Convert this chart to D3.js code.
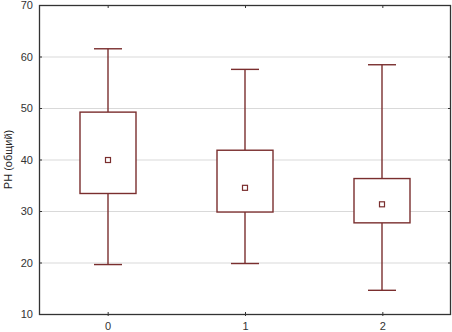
<!DOCTYPE html>
<html><head><meta charset="utf-8">
<script src="https://cdn.jsdelivr.net/npm/d3@7"></script>
<style>body{margin:0;background:#fff}svg{display:block}</style>
</head><body><svg id="c" width="452" height="332"></svg>
<script>
const categories = ["0","1","2"];
const whiskerLow = [19.6, 19.8, 14.6];
const boxLow = [33.4, 29.8, 27.7];
const means = [39.9, 34.5, 31.3];
const boxHigh = [49.2, 41.8, 36.3];
const whiskerHigh = [61.5, 57.5, 58.4];
const yTicks = [10,20,30,40,50,60,70];
const yLabel = "PH (общий)";

const svg = d3.select("#c");
const L=39, R=451, T=5, B=314;
const x = d3.scaleLinear().domain([-0.5,2.5]).range([L,R]);
const y = d3.scaleLinear().domain([10,70]).range([B,T]);
const col = "#7a2e2e";

// gridlines
svg.append("g").selectAll("line").data(yTicks.slice(1,-1)).join("line")
  .attr("x1",L).attr("x2",R).attr("y1",d=>y(d)+0.5).attr("y2",d=>y(d)+0.5)
  .attr("stroke","#d9d9d9").attr("stroke-width",1);

// axes
const ya = svg.append("g").attr("transform",`translate(${L},0)`)
  .call(d3.axisLeft(y).tickValues(yTicks).tickSize(-3).tickPadding(6).tickFormat(d3.format("d")));
const yr = svg.append("g").attr("transform",`translate(${R},0)`)
  .call(d3.axisRight(y).tickValues(yTicks).tickSize(-3).tickFormat(""));
const xa = svg.append("g").attr("transform",`translate(0,${B})`)
  .call(d3.axisBottom(x).tickValues([0,1,2]).tickSize(3).tickPadding(5).tickFormat(i=>categories[i]));
const xt = svg.append("g").attr("transform",`translate(0,${T})`)
  .call(d3.axisTop(x).tickValues([0,1,2]).tickSize(-3).tickFormat(""));
[ya,yr,xa,xt].forEach(g=>{
  g.select(".domain").remove();
  g.selectAll("line").attr("stroke","#333");
  g.selectAll("text").attr("fill","#333").style("font-family","Arial, 'Liberation Sans', sans-serif").style("font-size","11px");
});
xa.selectAll(".tick line").attr("transform","translate(0,-2)").attr("y2",4);
svg.append("rect").attr("x",L+0.5).attr("y",T+0.5).attr("width",R-L-1).attr("height",B-T)
  .attr("fill","none").attr("stroke","#333").attr("stroke-width",1.3);

// y label
svg.append("text").attr("transform",`translate(12,${(T+B)/2}) rotate(-90)`)
  .attr("text-anchor","middle").attr("fill","#222")
  .style("font-family","Arial, 'Liberation Sans', sans-serif").style("font-size","11px")
  .text(yLabel);

const bw = 56, cw = 28;
const g = svg.append("g").attr("stroke",col).attr("fill","none").attr("stroke-width",1.4);
categories.forEach((c,i)=>{
  const cx = Math.round(x(i));
  g.append("line").attr("x1",cx).attr("x2",cx).attr("y1",y(whiskerHigh[i])).attr("y2",y(boxHigh[i]));
  g.append("line").attr("x1",cx).attr("x2",cx).attr("y1",y(boxLow[i])).attr("y2",y(whiskerLow[i]));
  g.append("line").attr("x1",cx-cw/2).attr("x2",cx+cw/2).attr("y1",y(whiskerHigh[i])).attr("y2",y(whiskerHigh[i]));
  g.append("line").attr("x1",cx-cw/2).attr("x2",cx+cw/2).attr("y1",y(whiskerLow[i])).attr("y2",y(whiskerLow[i]));
  g.append("rect").attr("x",cx-bw/2).attr("y",y(boxHigh[i])).attr("width",bw).attr("height",y(boxLow[i])-y(boxHigh[i])).attr("fill","#fff");
  g.append("rect").attr("x",cx-2.5).attr("y",y(means[i])-2.5).attr("width",5).attr("height",5).attr("stroke-width",1.2);
});
</script></body></html>
